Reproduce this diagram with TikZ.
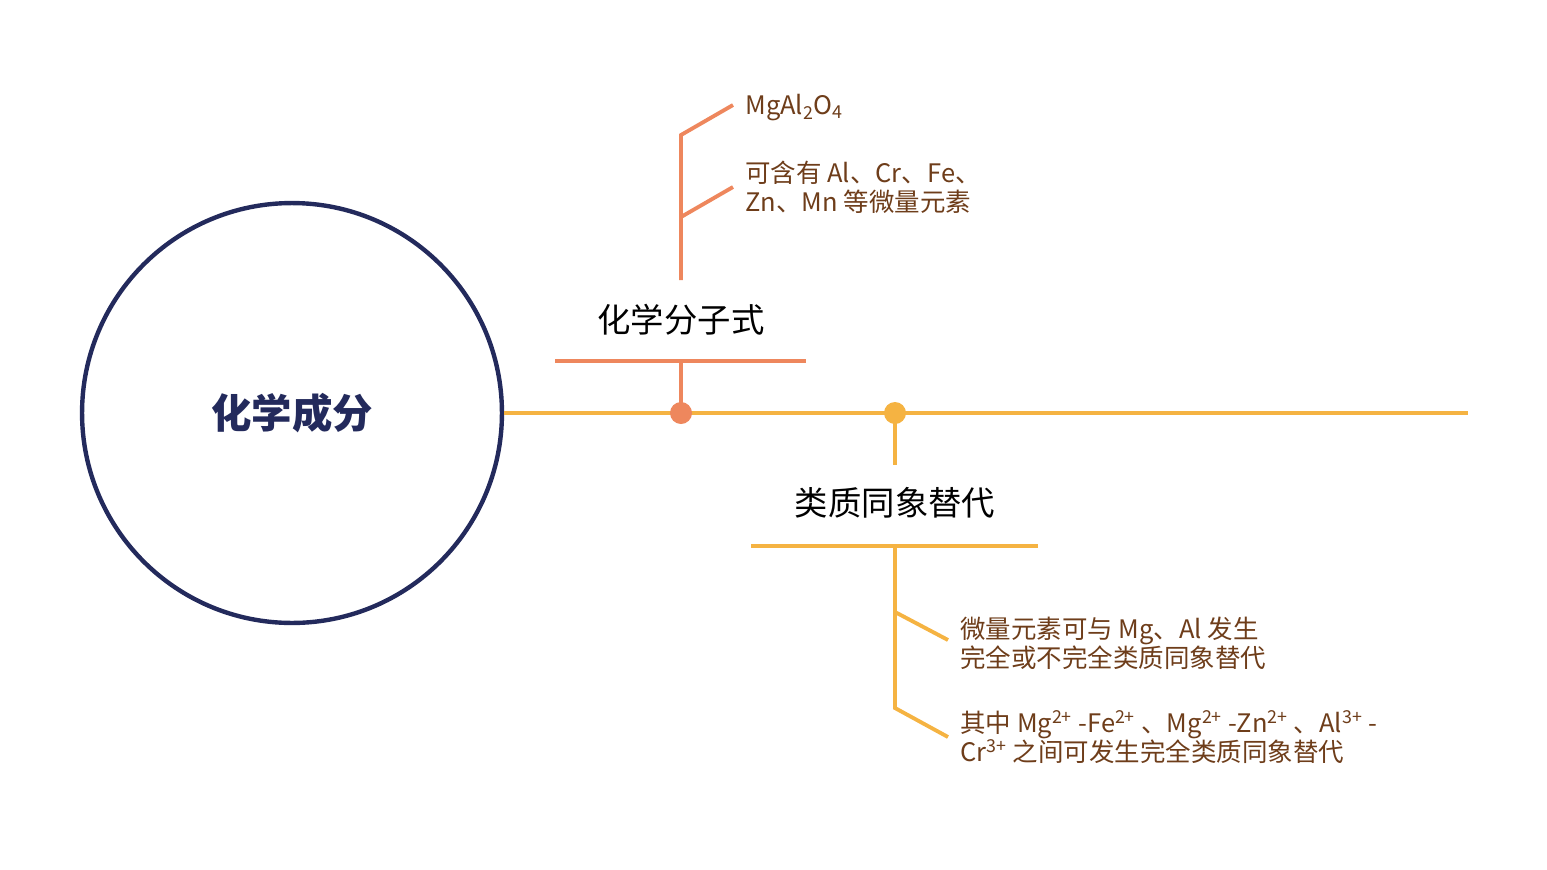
\documentclass[tikz,border=0pt]{standalone}
\usepackage{fontspec}
\setmainfont{Noto Sans CJK SC}
\usetikzlibrary{positioning}
\definecolor{navy}{HTML}{232A5C}
\definecolor{gold}{HTML}{F5B342}
\definecolor{salmon}{HTML}{EE875D}
\definecolor{brown}{HTML}{6E3D1A}
\begin{document}
\begin{tikzpicture}[x=0.02cm,y=-0.02cm,
    title/.style={font=\fontsize{19}{21}\selectfont},
    note/.style={font=\fontsize{14.5}{16.5}\selectfont, text=brown, anchor=west, align=left, inner sep=0pt},
    gline/.style={gold, line width=2.2pt},
    sline/.style={salmon, line width=2.2pt}]
    \useasboundingbox (0,0) rectangle (1547,869);
    % main circle
    \node[draw=navy, line width=2.5pt, circle, minimum size=8.4cm, font=\fontsize{23}{25}\selectfont\bfseries, text=navy] (main) at (292,413) {化学成分};
    \coordinate (axisEnd) at (1468,413);
    \draw[gline] (main.east) -- (axisEnd);
    \coordinate (dotA) at (681,413);
    \coordinate (dotB) at (895,413);

    % upper branch
    \node[title] (formulaTitle) at (681,320) {化学分子式};
    \coordinate (barAL) at (555,361);
    \coordinate (barAR) at (806,361);
    \coordinate (barA) at (681,361);
    \draw[sline] (barAL) -- (barAR);
    \draw[sline] (barA) -- (dotA);
    \fill[salmon] (dotA) circle (11);
    \coordinate (stemA) at (681,280);
    \coordinate (topA) at (681,135);
    \coordinate (midA) at (681,217);
    \draw[sline] (stemA) -- (topA) -- (733,105);
    \draw[sline] (midA) -- (733,187);
    \node[note] (formula) at (745,108) {MgAl\textsubscript{2}O\textsubscript{4}};
    \node[note] (trace) at (745,187) {可含有 Al、Cr、Fe、\\Zn、Mn 等微量元素};

    % lower branch
    \node[title] (substTitle) at (895,503) {类质同象替代};
    \coordinate (barBL) at (751,546);
    \coordinate (barBR) at (1038,546);
    \coordinate (barB) at (895,546);
    \coordinate (stemB) at (895,465);
    \draw[gline] (dotB) -- (stemB);
    \draw[gline] (barBL) -- (barBR);
    \fill[gold] (dotB) circle (11);
    \coordinate (botB) at (895,708);
    \coordinate (midB) at (895,612);
    \draw[gline] (barB) -- (botB) -- (948,737);
    \draw[gline] (midB) -- (948,640);
    \node[note] (subst1) at (960,643) {微量元素可与 Mg、Al 发生\\完全或不完全类质同象替代};
    \node[note] (subst2) at (960,737) {其中 Mg\textsuperscript{2+} -Fe\textsuperscript{2+} 、Mg\textsuperscript{2+} -Zn\textsuperscript{2+} 、Al\textsuperscript{3+} -\\Cr\textsuperscript{3+} 之间可发生完全类质同象替代};
\end{tikzpicture}
\end{document}
